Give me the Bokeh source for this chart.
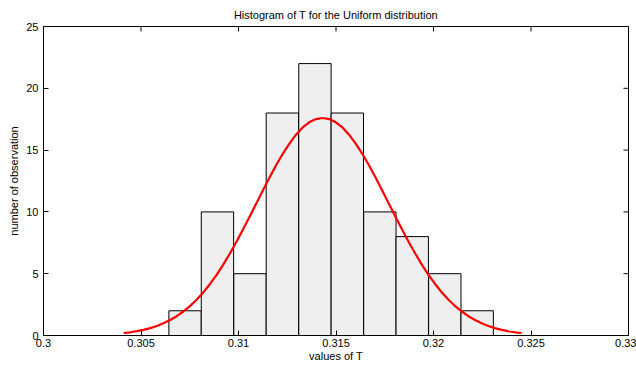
from bokeh.plotting import figure
from bokeh.models import FixedTicker, ColumnDataSource
from bokeh.embed import file_html
from bokeh.resources import INLINE

# Histogram data (bin centers and counts)
bin_centers = [0.30726, 0.30892, 0.31059, 0.31225, 0.31392, 0.31558, 0.31725, 0.31891, 0.32058, 0.32224]
counts = [2, 10, 5, 18, 22, 18, 10, 8, 5, 2]

# Fitted normal curve
curve_x = [0.30411, 0.30445, 0.30479, 0.30513, 0.30547, 0.30581, 0.30615, 0.30649, 0.30683, 0.30717,
           0.30751, 0.30785, 0.30819, 0.30853, 0.30887, 0.30921, 0.30955, 0.30989, 0.31023, 0.31057,
           0.31091, 0.31125, 0.31159, 0.31193, 0.31227, 0.31261, 0.31295, 0.31329, 0.31363, 0.31397,
           0.31431,
           0.31465, 0.31499, 0.31533, 0.31567, 0.31601, 0.31635, 0.31669, 0.31703, 0.31737, 0.31771,
           0.31805, 0.31839, 0.31873, 0.31907, 0.31941, 0.31975, 0.32009, 0.32043, 0.32077, 0.32111,
           0.32145, 0.32179, 0.32213, 0.32247, 0.32281, 0.32315, 0.32349, 0.32383, 0.32417, 0.32451]
curve_y = [0.20, 0.26, 0.35, 0.46, 0.60, 0.77, 0.99, 1.25, 1.56, 1.94,
           2.38, 2.89, 3.48, 4.15, 4.89, 5.71, 6.61, 7.56, 8.57, 9.61,
           10.67, 11.74, 12.78, 13.78, 14.70, 15.53, 16.25, 16.83, 17.25, 17.51,
           17.60,
           17.51, 17.25, 16.83, 16.25, 15.53, 14.70, 13.78, 12.78, 11.74, 10.67,
           9.61, 8.57, 7.56, 6.61, 5.71, 4.89, 4.15, 3.48, 2.89, 2.38,
           1.94, 1.56, 1.25, 0.99, 0.77, 0.60, 0.46, 0.35, 0.26, 0.20]

x_ticks = [0.3, 0.305, 0.31, 0.315, 0.32, 0.325, 0.33]
x_tick_labels = ["0.3", "0.305", "0.31", "0.315", "0.32", "0.325", "0.33"]
y_ticks = [0, 5, 10, 15, 20, 25]

X_MIN, X_MAX = x_ticks[0], x_ticks[-1]
Y_MIN, Y_MAX = y_ticks[0], y_ticks[-1]

FONT = "Liberation Sans"
FS = "11px"

p = figure(width=636, height=365, x_range=(X_MIN, X_MAX), y_range=(Y_MIN, Y_MAX),
           output_backend="svg", toolbar_location=None,
           title="Histogram of T for the Uniform distribution",
           min_border_left=43, min_border_right=8, min_border_top=26, min_border_bottom=30)
p.background_fill_color = "white"
p.border_fill_color = "white"
p.outline_line_color = "black"
p.outline_line_width = 1
p.xgrid.visible = False
p.ygrid.visible = False

p.title.align = "center"
p.title.text_font = FONT
p.title.text_font_size = FS
p.title.text_font_style = "normal"
p.title.text_color = "black"
p.title.standoff = 12

bar_width = bin_centers[1] - bin_centers[0]
src = ColumnDataSource(dict(x=bin_centers, top=counts))
p.vbar(x="x", top="top", width=bar_width, bottom=0, source=src,
       fill_color="#efefef", line_color="black", line_width=1)

p.line(curve_x, curve_y, line_color="#ff0000", line_width=2.2)

# inward ticks on the top and right edges of the box (half of each dash is clipped by the frame)
p.scatter(x_ticks, [Y_MAX] * len(x_ticks), marker="dash", size=10, angle=1.5707963,
          line_color="black", line_width=1)
p.scatter([X_MAX] * len(y_ticks), y_ticks, marker="dash", size=10,
          line_color="black", line_width=1)

def style_axis(ax, ticks):
    ax.ticker = FixedTicker(ticks=ticks)
    ax.major_tick_in = 5
    ax.major_tick_out = 0
    ax.minor_tick_in = 0
    ax.minor_tick_out = 0
    ax.major_tick_line_color = "black"
    ax.axis_line_color = "black"
    ax.major_label_text_font = FONT
    ax.major_label_text_font_size = FS
    ax.major_label_text_color = "black"
    ax.axis_label_text_font = FONT
    ax.axis_label_text_font_size = FS
    ax.axis_label_text_font_style = "normal"
    ax.axis_label_text_color = "black"

xa = p.xaxis[0]
style_axis(xa, x_ticks)
xa.major_label_overrides = {t: s for t, s in zip(x_ticks, x_tick_labels)}
xa.axis_label = "values of T"
xa.major_label_standoff = 3
xa.axis_label_standoff = 0

ya = p.yaxis[0]
style_axis(ya, y_ticks)
ya.axis_label = "number of observation"
ya.major_label_standoff = 5
ya.axis_label_standoff = 3

open("out.html", "w").write(file_html(p, INLINE))
